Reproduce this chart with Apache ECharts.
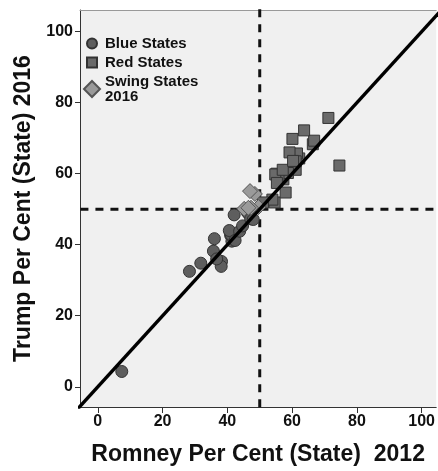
<!DOCTYPE html>
<html>
<head>
<meta charset="utf-8">
<script src="https://cdn.jsdelivr.net/npm/echarts@6/dist/echarts.min.js"></script>
<style>html,body{margin:0;padding:0;background:#fff}#c{width:438px;height:471px}</style>
</head>
<body>
<div id="c"></div>
<script>
// Two-party vote share by state: Romney 2012 (x) vs Trump 2016 (y)
const blueNames = ['DC','HI','VT','MA','CA','NY','MD','RI','IL','NJ','CT','DE','WA','ME','OR','NM','MN','NV','NH','CO','VA'];
const blueRomney = [7.4,28.3,31.8,38.2,38.1,35.7,36.7,36.0,41.4,41.0,41.2,40.6,42.4,42.1,43.8,44.7,46.1,46.6,47.2,47.2,48.0];
const blueTrump  = [4.3,32.5,34.8,35.3,33.9,38.2,36.0,41.7,41.0,42.7,42.8,44.0,41.2,48.4,43.8,45.3,49.2,48.7,49.8,47.3,47.1];

const redNames = ['AL','AK','AZ','AR','GA','ID','IN','KS','KY','LA','MS','MO','MT','NE','NC','ND','OK','SC','SD','TN','TX','UT','WV','WY'];
const redRomney = [61.2,57.3,54.6,62.2,53.9,66.4,55.2,61.1,61.5,58.7,55.8,54.8,57.1,61.1,51.0,60.1,66.8,55.3,59.2,60.3,58.0,74.6,63.7,71.2];
const redTrump  = [64.4,58.4,51.9,64.3,52.7,68.3,60.0,61.1,65.7,60.2,59.1,59.8,61.1,63.5,51.9,69.8,69.3,57.4,66.0,63.6,54.7,62.3,72.2,75.7];

const swingNames = ['FL','PA','OH','MI','WI','IA'];
const swingRomney = [49.6,47.3,48.5,45.2,46.5,47.0];
const swingTrump  = [50.6,50.4,54.3,50.1,50.4,55.1];

const tickValues = [0,20,40,60,80,100];
const threshold = 50;
const diagonalEnds = [-10, 120];

const FONT = '"Liberation Sans", Arial, sans-serif';
const pairs = (xs, ys) => xs.map((x, i) => [x, ys[i]]);

const chart = echarts.init(document.getElementById('c'), null, {renderer: 'canvas'});

const axisCommon = {
  type: 'value',
  nameLocation: 'middle',
  nameTextStyle: {fontFamily: FONT, fontWeight: 'bold', fontSize: 23, color: '#111'},
  axisLine: {show: true, onZero: false, lineStyle: {color: '#333', width: 1}},
  axisTick: {show: true, customValues: tickValues, lineStyle: {color: '#333', width: 1}},
  axisLabel: {customValues: tickValues, fontFamily: FONT, fontWeight: 'bold', fontSize: 16, color: '#111'},
  splitLine: {show: false}
};

const legendText = {fontFamily: FONT, fontWeight: 'bold', fontSize: 15, color: '#111', lineHeight: 15, padding: [0, 0, 0, 3]};

chart.setOption({
  animation: false,
  backgroundColor: '#ffffff',
  grid: {left: 80, right: 0, top: 10, bottom: 64, show: true, backgroundColor: '#f0f0f0', borderWidth: 0},
  legend: [
    {data: ['Blue States'], orient: 'vertical', left: 81, top: 31, icon: 'circle', itemWidth: 10, itemHeight: 10, textStyle: legendText},
    {data: ['Red States'], orient: 'vertical', left: 81, top: 50, icon: 'rect', itemWidth: 10, itemHeight: 10, textStyle: legendText},
    {data: [{name: 'Swing States 2016', icon: 'diamond'}], orient: 'vertical', left: 78, top: 69, itemWidth: 16, itemHeight: 16,
     formatter: () => 'Swing States\n2016', textStyle: Object.assign({}, legendText, {padding: [0, 0, 0, 0]})}
  ],
  xAxis: [
    Object.assign({}, axisCommon, {
      min: -5.5, max: 104.5, name: 'Romney Per Cent (State)  2012', nameGap: 36,
      axisTick: Object.assign({}, axisCommon.axisTick, {length: 6}),
      axisLabel: Object.assign({}, axisCommon.axisLabel, {margin: 7})
    }),
    {type: 'value', position: 'top', min: -5.5, max: 104.5, axisLine: {show: true, onZero: false, lineStyle: {color: '#999'}},
     axisTick: {show: false}, axisLabel: {show: false}, splitLine: {show: false}}
  ],
  yAxis: Object.assign({}, axisCommon, {
    min: -5.7, max: 106.1, name: 'Trump Per Cent (State) 2016', nameGap: 45,
    axisTick: Object.assign({}, axisCommon.axisTick, {length: 5}),
    axisLabel: Object.assign({}, axisCommon.axisLabel, {margin: 7})
  }),
  series: [
    {type: 'line', name: 'vref', data: [[threshold, diagonalEnds[0]], [threshold, diagonalEnds[1]]], symbol: 'none', silent: true, z: 1,
     lineStyle: {color: '#111', width: 3, type: [8, 7]}},
    {type: 'line', name: 'href', data: [[diagonalEnds[0], threshold], [diagonalEnds[1], threshold]], symbol: 'none', silent: true, z: 1,
     lineStyle: {color: '#111', width: 3, type: [8, 7]}},
    {type: 'scatter', name: 'Blue States', data: pairs(blueRomney, blueTrump), symbol: 'circle', symbolSize: 12, z: 2,
     itemStyle: {color: '#5e5e5e', borderColor: '#333', borderWidth: 1, opacity: 1}},
    {type: 'scatter', name: 'Red States', data: pairs(redRomney, redTrump), symbol: 'rect', symbolSize: 11, z: 2,
     itemStyle: {color: '#6a6a6a', borderColor: '#333', borderWidth: 1, opacity: 1}},
    {type: 'scatter', name: 'Swing States 2016', data: pairs(swingRomney, swingTrump), symbol: 'diamond', symbolSize: 15, z: 2,
     itemStyle: {color: '#9a9a9a', borderColor: '#555', borderWidth: 1, opacity: 1}},
    {type: 'line', name: 'diag', data: [[diagonalEnds[0], diagonalEnds[0]], [diagonalEnds[1], diagonalEnds[1]]], symbol: 'none', silent: true, z: 3,
     lineStyle: {color: '#000', width: 3.5}}
  ]
});
</script>
</body>
</html>
